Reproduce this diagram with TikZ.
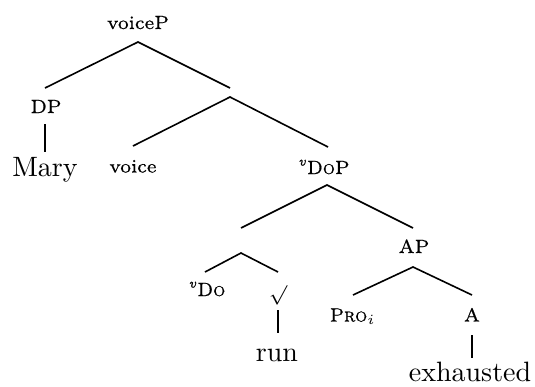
\documentclass[tikz,border=0pt]{standalone}
\usepackage{amsmath}
\usepackage{fontspec}
\newfontfamily\lblfont{lmroman7-regular}[Extension=.otf, FakeBold=0.6,
  ItalicFont=lmroman7-italic, ItalicFeatures={FakeBold=0.6},
  SmallCapsFont=lmromancaps10-regular, SmallCapsFeatures={FakeBold=0.6}]
\tikzset{
  lbl/.style={inner sep=0pt, anchor=base, scale=2.8, font=\fontsize{6.8}{8}\lblfont},
  word/.style={inner sep=0pt, anchor=base, scale=2.8, font=\fontsize{10}{12}\selectfont},
  branch/.style={line width=1.6pt},
}
\begin{document}
\begin{tikzpicture}[x=1pt,y=-1pt]
\useasboundingbox (0,0) rectangle (535,386);
% labels
\node[lbl] (voiceP) at (138,29) {voiceP};
\node[lbl] (dp) at (46,113) {DP};
\node[word] (mary) at (45,176.5) {Mary};
\node[lbl] (voice) at (133,172.5) {voice};
\node[lbl] (vdop) at (324,174) {\textsuperscript{\itshape v}\textsc{Do}P};
\node[lbl] (ap) at (414,253) {AP};
\node[lbl] (vdo) at (207,296) {\textsuperscript{\itshape v}\textsc{Do}};
\node[lbl] (root) at (278,300) {$\surd$};
\node[word] (run) at (277,361.5) {run};
\node[lbl] (pro) at (353,321.5) {\textsc{Pro}$_i$};
\node[lbl] (a) at (472,321.5) {A};
\node[word] (exh) at (470,381) {exhausted};
% attachment points
\coordinate (vp-b) at (138,42);
\coordinate (dp-t) at (45,88);
\coordinate (dp-b) at (45,124);
\coordinate (mary-t) at (45,152);
\coordinate (x1-t) at (230,88);
\coordinate (x1-b) at (230,97);
\coordinate (voice-t) at (133,146);
\coordinate (vdop-t) at (328,147);
\coordinate (vdop-b) at (327,185);
\coordinate (x2-t) at (241,228);
\coordinate (x2-b) at (241,253);
\coordinate (ap-t) at (413,228);
\coordinate (ap-b) at (413,267);
\coordinate (vdo-t) at (205,272);
\coordinate (root-t) at (278,272);
\coordinate (root-b) at (278,310);
\coordinate (run-t) at (278,333);
\coordinate (pro-t) at (353,295);
\coordinate (a-t) at (472,295);
\coordinate (a-b) at (472,335);
\coordinate (exh-t) at (472,358);
% branches
\draw[branch] (dp-t) -- (vp-b) -- (x1-t);
\draw[branch] (dp-b) -- (mary-t);
\draw[branch] (voice-t) -- (x1-b) -- (vdop-t);
\draw[branch] (x2-t) -- (vdop-b) -- (ap-t);
\draw[branch] (vdo-t) -- (x2-b) -- (root-t);
\draw[branch] (root-b) -- (run-t);
\draw[branch] (pro-t) -- (ap-b) -- (a-t);
\draw[branch] (a-b) -- (exh-t);
\end{tikzpicture}
\end{document}
